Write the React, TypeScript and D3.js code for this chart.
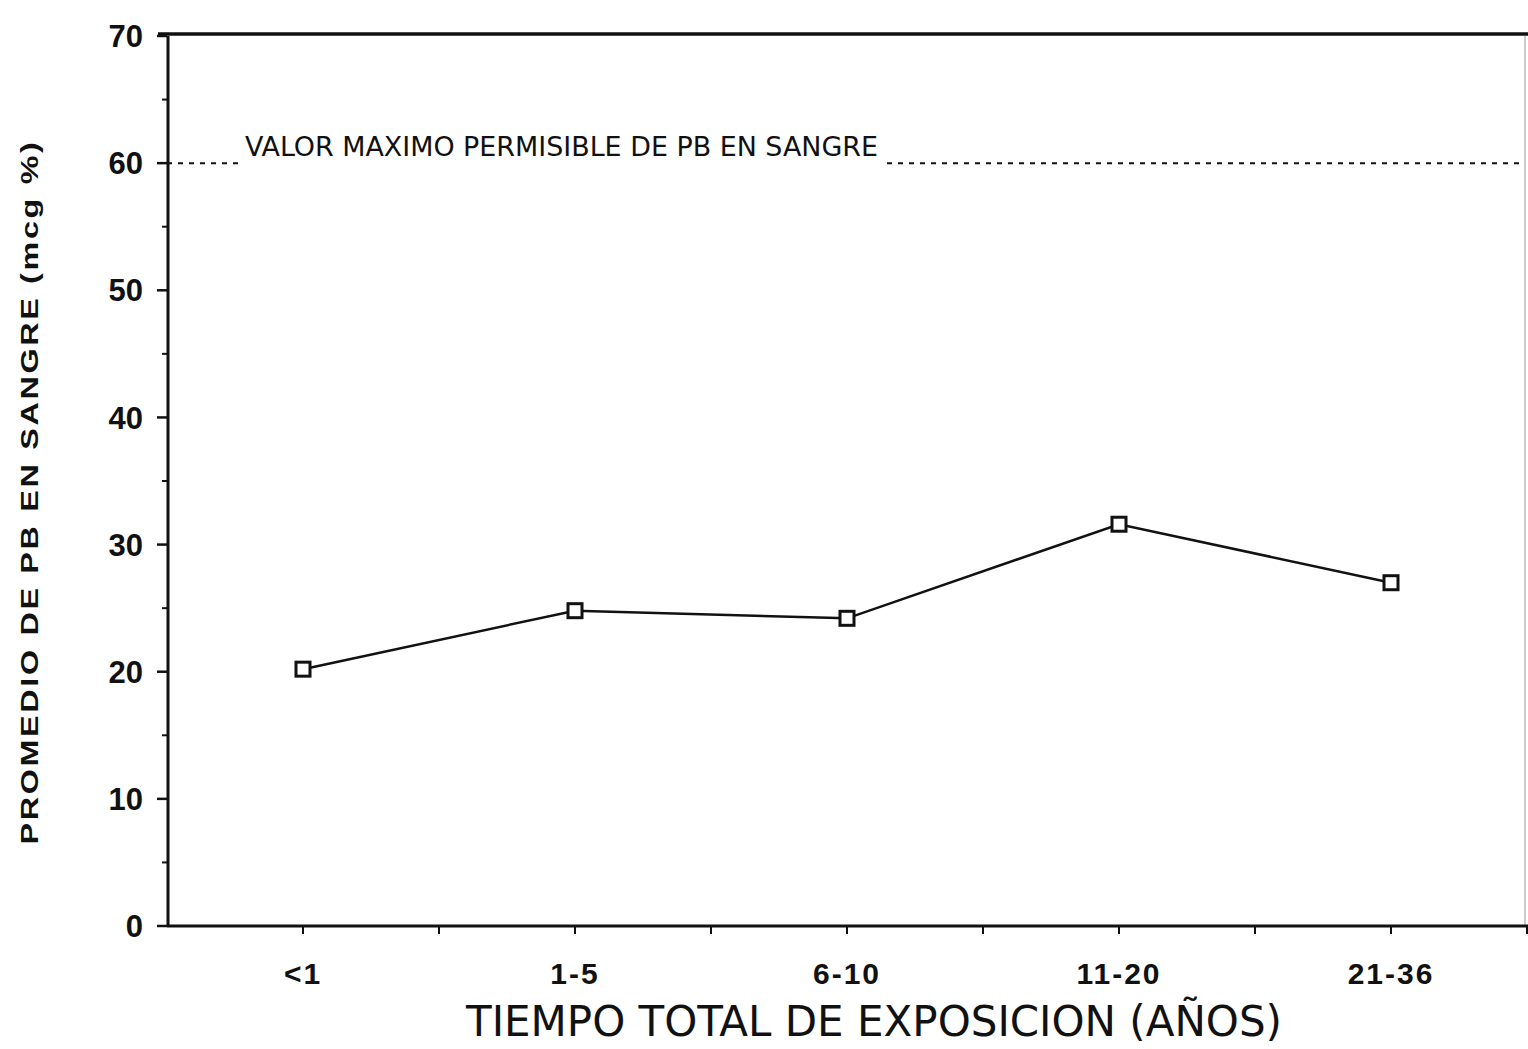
import React from "react";
import * as d3 from "d3";

const categories = ["<1", "1-5", "6-10", "11-20", "21-36"];
const values = [20.2, 24.8, 24.2, 31.6, 27.0];
const yTicks = [0, 10, 20, 30, 40, 50, 60, 70];
const limitValue = 60;
const limitLabel = "VALOR MAXIMO PERMISIBLE DE PB EN SANGRE";
const xTitle = "TIEMPO TOTAL DE EXPOSICION (AÑOS)";
const yTitle = "PROMEDIO DE PB EN SANGRE (mcg %)";

const W = 1528;
const H = 1049;
const left = 167;
const right = 1527;
const top = 36;
const bottom = 926;

export default function App() {
  const x = d3.scaleBand<string>().domain(categories).range([left, right]).padding(0);
  const y = d3.scaleLinear().domain([0, 70]).range([bottom, top]);
  const cx = (c: string) => (x(c) as number) + x.bandwidth() / 2;

  const line = d3
    .line<number>()
    .x((_, i) => cx(categories[i]))
    .y((d) => y(d));

  const minorY = d3.range(5, 70, 10);
  const xTickPos: number[] = [];
  categories.forEach((c) => {
    xTickPos.push(cx(c));
    xTickPos.push((x(c) as number) + x.bandwidth());
  });

  const yl = y(limitValue);
  const font = "'Liberation Sans', Arial, sans-serif";
  const condensed = "'DejaVu Sans Condensed', 'DejaVu Sans', sans-serif";

  return (
    <svg
      width={W}
      height={H}
      style={{ position: "absolute", left: 0, top: 0, background: "#fff" }}
    >
      <rect x={0} y={0} width={W} height={H} fill="#fff" />
      {/* top border */}
      <line x1={158} x2={W} y1={top - 2} y2={top - 2} stroke="#111" strokeWidth={3.5} />
      {/* right border faint */}
      <line x1={1525} x2={1525} y1={top} y2={bottom} stroke="#bbb" strokeWidth={1.5} />
      {/* y axis */}
      <line x1={left + 1} x2={left + 1} y1={top} y2={bottom} stroke="#111" strokeWidth={3} />
      {yTicks.map((t) => (
        <g key={t}>
          <line x1={157} x2={left} y1={y(t)} y2={y(t)} stroke="#111" strokeWidth={2.5} />
          <text
            x={143}
            y={y(t)}
            dy="0.36em"
            textAnchor="end"
            fontFamily={font}
            fontWeight="bold"
            fontSize={31}
            fill="#111"
          >
            {t}
          </text>
        </g>
      ))}
      {minorY.map((t) => (
        <line key={t} x1={162} x2={left} y1={y(t)} y2={y(t)} stroke="#111" strokeWidth={2} />
      ))}
      {/* x axis */}
      <line x1={left} x2={W} y1={bottom} y2={bottom} stroke="#111" strokeWidth={3} />
      {xTickPos.map((p, i) => (
        <line key={i} x1={p} x2={p} y1={bottom} y2={bottom + 8} stroke="#111" strokeWidth={2} />
      ))}
      {categories.map((c) => (
        <text
          key={c}
          x={cx(c)}
          y={984}
          textAnchor="middle"
          fontFamily={font}
          fontWeight="bold"
          fontSize={30}
          letterSpacing={2}
          fill="#111"
        >
          {c}
        </text>
      ))}
      {/* limit line */}
      <line x1={left} x2={240} y1={yl} y2={yl} stroke="#111" strokeWidth={2} strokeDasharray="5,6" />
      <line x1={887} x2={1525} y1={yl} y2={yl} stroke="#111" strokeWidth={2} strokeDasharray="5,6" />
      <text
        x={245}
        y={yl - 7}
        fontFamily={condensed}
        fontSize={26}
        textLength={633}
        lengthAdjust="spacingAndGlyphs"
        fill="#111"
      >
        {limitLabel}
      </text>
      {/* data line */}
      <path d={line(values) || ""} fill="none" stroke="#111" strokeWidth={2.5} />
      {values.map((v, i) => (
        <rect
          key={i}
          x={cx(categories[i]) - 7}
          y={y(v) - 7}
          width={14}
          height={14}
          fill="#fff"
          stroke="#111"
          strokeWidth={3}
        />
      ))}
      {/* axis titles */}
      <text
        x={874}
        y={1036}
        textAnchor="middle"
        fontFamily={condensed}
        fontSize={43}
        textLength={816}
        lengthAdjust="spacingAndGlyphs"
        fill="#111"
      >
        {xTitle}
      </text>
      <text
        transform={`translate(38, 492) rotate(-90)`}
        textAnchor="middle"
        fontFamily={font}
        fontWeight="bold"
        fontSize={24}
        textLength={705}
        lengthAdjust="spacingAndGlyphs"
        letterSpacing={2}
        fill="#111"
      >
        {yTitle}
      </text>
    </svg>
  );
}
